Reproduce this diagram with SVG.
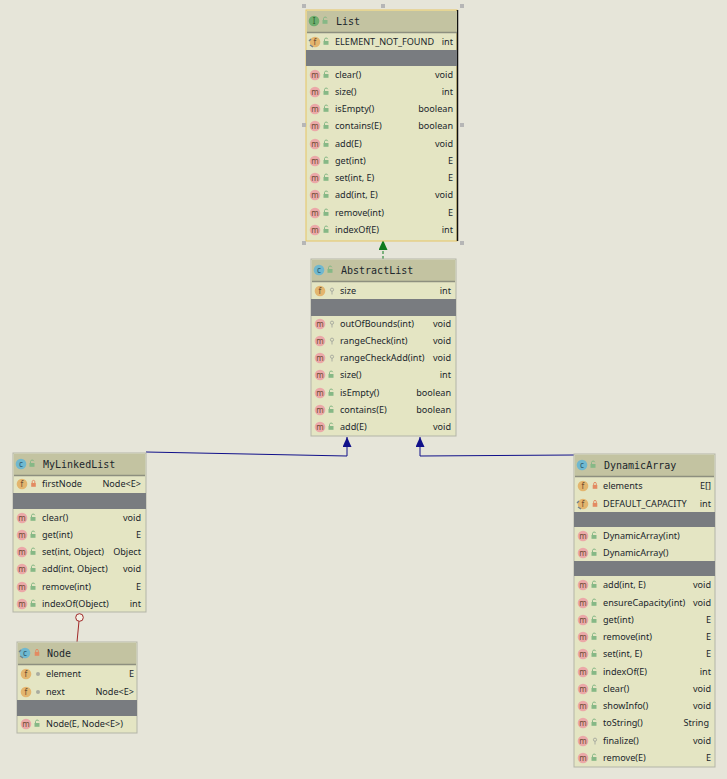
<svg xmlns="http://www.w3.org/2000/svg" width="727" height="779" viewBox="0 0 727 779">
<style>
text{font-family:"Noto Sans","Open Sans","Liberation Sans",sans-serif;font-size:9.1px;fill:#20262c}
.t{font-family:"DejaVu Sans Mono","Liberation Mono",monospace;font-size:10px}
.r{text-anchor:end}
.l{font-size:8px;text-anchor:middle;fill:#6b4a30}
.b{fill:#e4e5c3;stroke:#b3b5a8;stroke-width:1}
.h{fill:#c3c3a1}
.s{stroke:#8d8f7f;stroke-width:1.5}
.g{fill:#797c80}
.im{fill:#eba8a8}.if{fill:#e3b56e}.ic{fill:#70b8cf}.ii{fill:#6fae6f}
.h2{fill:#b6b6b6}
</style>
<defs>
<g id="o"><rect x="-2.500" y="-1" width="5" height="3.800" fill="#86b886"/><path d="M-1.500-1V-2.500A1.700 1.700 0 0 1 1.800-2.800" fill="none" stroke="#86b886"/></g>
<g id="p"><rect x="-2.300" y="-1" width="4.600" height="3.800" fill="#e38a62"/><path d="M-1.300-1V-2.300A1.300 1.300 0 0 1 1.300-2.300V-1" fill="none" stroke="#e38a62"/></g>
<g id="k"><circle cy="-1.300" r="1.600" fill="none" stroke="#a9aca0"/><path d="M0 0V3.500" stroke="#a9aca0"/></g>
<circle id="d" r="2" fill="#a9aca0"/>
<circle id="cm" r="5.300" class="im"/>
<circle id="cf" r="5.300" class="if"/>
<circle id="cc" r="5.300" class="ic"/>
<path id="st" d="M-5 3L-2 5M-4-3L-6-1" stroke="#70808c" stroke-width="1.400" fill="none"/>
<marker id="ag" markerWidth="11" markerHeight="10" refX="10" refY="4.500" orient="auto" markerUnits="userSpaceOnUse"><path d="M0 0L10 4.500L0 9Z" fill="#0f7a1e"/></marker>
<marker id="ab" markerWidth="11" markerHeight="10" refX="10" refY="4.500" orient="auto" markerUnits="userSpaceOnUse"><path d="M0 0L10 4.500L0 9Z" fill="#10108a"/></marker>
</defs>
<rect width="727" height="779" fill="#e6e5d9"/>

<g id="connectors" fill="none">
<path d="M383 259V240" stroke="#0f7a1e" stroke-dasharray="3 2" marker-end="url(#ag)"/>
<path d="M146 452L347 456V437" stroke="#10108a" marker-end="url(#ab)"/>
<path d="M574 455L420 456V437" stroke="#10108a" marker-end="url(#ab)"/>
<path d="M77 642L79 621" stroke="#a02828"/>
<circle cx="79.500" cy="617.500" r="3.800" fill="#f4f1e6" stroke="#a02828"/>
</g>

<g id="List">
<rect class="b" x="306" y="10" width="151" height="231" style="stroke:#e6c565"/>
<path d="M457.500 10V241" stroke="#111" stroke-width="1.500"/>
<rect class="h" x="307" y="11" width="150" height="21"/><path class="s" d="M307 32.500H457"/>
<rect class="g" x="306" y="50" width="151" height="16"/>
<circle cx="314" cy="21" r="5.300" class="ii"/><text class="l" x="314" y="23.500" style="fill:#2d5c2d">I</text><use href="#o" x="325" y="21"/><text class="t" x="336" y="24.500">List</text>
<use href="#cf" x="315" y="42"/><use href="#st" x="315" y="42"/><text class="l" x="315" y="44.500">f</text><use href="#o" x="326" y="42"/><text x="335" y="45">ELEMENT_NOT_FOUND</text><text class="r" x="453" y="45">int</text>
<g id="List-m">
<use href="#cm" x="315" y="75"/><text class="l" x="315" y="77.500">m</text><use href="#o" x="326" y="75"/><text x="335" y="78">clear()</text><text class="r" x="453" y="78">void</text>
<use href="#cm" x="315" y="92"/><text class="l" x="315" y="94.500">m</text><use href="#o" x="326" y="92"/><text x="335" y="95">size()</text><text class="r" x="453" y="95">int</text>
<use href="#cm" x="315" y="109"/><text class="l" x="315" y="111.500">m</text><use href="#o" x="326" y="109"/><text x="335" y="112">isEmpty()</text><text class="r" x="453" y="112">boolean</text>
<use href="#cm" x="315" y="126"/><text class="l" x="315" y="128.500">m</text><use href="#o" x="326" y="126"/><text x="335" y="129">contains(E)</text><text class="r" x="453" y="129">boolean</text>
<use href="#cm" x="315" y="144"/><text class="l" x="315" y="146.500">m</text><use href="#o" x="326" y="144"/><text x="335" y="147">add(E)</text><text class="r" x="453" y="147">void</text>
<use href="#cm" x="315" y="161"/><text class="l" x="315" y="163.500">m</text><use href="#o" x="326" y="161"/><text x="335" y="164">get(int)</text><text class="r" x="453" y="164">E</text>
<use href="#cm" x="315" y="178"/><text class="l" x="315" y="180.500">m</text><use href="#o" x="326" y="178"/><text x="335" y="181">set(int, E)</text><text class="r" x="453" y="181">E</text>
<use href="#cm" x="315" y="195"/><text class="l" x="315" y="197.500">m</text><use href="#o" x="326" y="195"/><text x="335" y="198">add(int, E)</text><text class="r" x="453" y="198">void</text>
<use href="#cm" x="315" y="213"/><text class="l" x="315" y="215.500">m</text><use href="#o" x="326" y="213"/><text x="335" y="216">remove(int)</text><text class="r" x="453" y="216">E</text>
<use href="#cm" x="315" y="230"/><text class="l" x="315" y="232.500">m</text><use href="#o" x="326" y="230"/><text x="335" y="233">indexOf(E)</text><text class="r" x="453" y="233">int</text>
</g>
<g class="h2"><rect x="302" y="4" width="4" height="4"/><rect x="381" y="4" width="4" height="4"/><rect x="460" y="4" width="4" height="4"/><rect x="302" y="123" width="4" height="4"/><rect x="460" y="123" width="4" height="4"/><rect x="302" y="241" width="4" height="4"/><rect x="460" y="241" width="4" height="4"/></g>
</g>

<g id="AbstractList">
<rect class="b" x="311" y="259" width="145" height="177"/>
<rect class="h" x="312" y="260" width="143" height="21"/><path class="s" d="M312 281.500H455"/>
<rect class="g" x="311" y="299" width="145" height="17"/>
<use href="#cc" x="319" y="270"/><text class="l" x="319" y="272.500" style="fill:#2c5a70">c</text><use href="#o" x="330" y="270"/><text class="t" x="341" y="274">AbstractList</text>
<use href="#cf" x="320" y="291"/><text class="l" x="320" y="293.500">f</text><use href="#k" x="332" y="291"/><text x="340" y="294">size</text><text class="r" x="451" y="294">int</text>
<use href="#cm" x="320" y="324"/><text class="l" x="320" y="326.500">m</text><use href="#k" x="332" y="324"/><text x="340" y="327">outOfBounds(int)</text><text class="r" x="451" y="327">void</text>
<use href="#cm" x="320" y="341"/><text class="l" x="320" y="343.500">m</text><use href="#k" x="332" y="341"/><text x="340" y="344">rangeCheck(int)</text><text class="r" x="451" y="344">void</text>
<use href="#cm" x="320" y="358"/><text class="l" x="320" y="360.500">m</text><use href="#k" x="332" y="358"/><text x="340" y="361">rangeCheckAdd(int)</text><text class="r" x="451" y="361">void</text>
<use href="#cm" x="320" y="375"/><text class="l" x="320" y="377.500">m</text><use href="#o" x="331" y="375"/><text x="340" y="378">size()</text><text class="r" x="451" y="378">int</text>
<use href="#cm" x="320" y="393"/><text class="l" x="320" y="395.500">m</text><use href="#o" x="331" y="393"/><text x="340" y="396">isEmpty()</text><text class="r" x="451" y="396">boolean</text>
<use href="#cm" x="320" y="410"/><text class="l" x="320" y="412.500">m</text><use href="#o" x="331" y="410"/><text x="340" y="413">contains(E)</text><text class="r" x="451" y="413">boolean</text>
<use href="#cm" x="320" y="427"/><text class="l" x="320" y="429.500">m</text><use href="#o" x="331" y="427"/><text x="340" y="430">add(E)</text><text class="r" x="451" y="430">void</text>
</g>

<g id="MyLinkedList">
<rect class="b" x="13" y="453" width="133" height="159"/>
<rect class="h" x="14" y="454" width="131" height="21"/><path class="s" d="M14 475.500H145"/>
<rect class="g" x="13" y="493" width="133" height="16"/>
<use href="#cc" x="21" y="464"/><text class="l" x="21" y="466.500" style="fill:#2c5a70">c</text><use href="#o" x="32" y="464"/><text class="t" x="43" y="468">MyLinkedList</text>
<use href="#cf" x="22" y="484"/><text class="l" x="22" y="486.500">f</text><use href="#p" x="33.500" y="484"/><text x="42" y="487">firstNode</text><text class="r" x="141" y="487">Node&lt;E&gt;</text>
<use href="#cm" x="22" y="518"/><text class="l" x="22" y="520.500">m</text><use href="#o" x="33" y="518"/><text x="42" y="521">clear()</text><text class="r" x="141" y="521">void</text>
<use href="#cm" x="22" y="535"/><text class="l" x="22" y="537.500">m</text><use href="#o" x="33" y="535"/><text x="42" y="538">get(int)</text><text class="r" x="141" y="538">E</text>
<use href="#cm" x="22" y="552"/><text class="l" x="22" y="554.500">m</text><use href="#o" x="33" y="552"/><text x="42" y="555">set(int, Object)</text><text class="r" x="141" y="555">Object</text>
<use href="#cm" x="22" y="569"/><text class="l" x="22" y="571.500">m</text><use href="#o" x="33" y="569"/><text x="42" y="572">add(int, Object)</text><text class="r" x="141" y="572">void</text>
<use href="#cm" x="22" y="587"/><text class="l" x="22" y="589.500">m</text><use href="#o" x="33" y="587"/><text x="42" y="590">remove(int)</text><text class="r" x="141" y="590">E</text>
<use href="#cm" x="22" y="604"/><text class="l" x="22" y="606.500">m</text><use href="#o" x="33" y="604"/><text x="42" y="607">indexOf(Object)</text><text class="r" x="141" y="607">int</text>
</g>

<g id="Node">
<rect class="b" x="17" y="642" width="120" height="91"/>
<rect class="h" x="18" y="643" width="118" height="21"/><path class="s" d="M18 664.500H136"/>
<rect class="g" x="17" y="700" width="120" height="16"/>
<use href="#cc" x="25" y="653"/><use href="#st" x="25" y="653"/><text class="l" x="25" y="655.500" style="fill:#2c5a70">c</text><use href="#p" x="37" y="653"/><text class="t" x="47" y="657">Node</text>
<use href="#cf" x="26" y="674"/><text class="l" x="26" y="676.500">f</text><use href="#d" x="38" y="674"/><text x="46" y="677">element</text><text class="r" x="134" y="677">E</text>
<use href="#cf" x="26" y="692"/><text class="l" x="26" y="694.500">f</text><use href="#d" x="38" y="692"/><text x="46" y="695">next</text><text class="r" x="134" y="695">Node&lt;E&gt;</text>
<use href="#cm" x="26" y="724"/><text class="l" x="26" y="726.500">m</text><use href="#o" x="37" y="724"/><text x="46" y="727">Node(E, Node&lt;E&gt;)</text>
</g>

<g id="DynamicArray">
<rect class="b" x="574" y="454" width="141" height="313"/>
<rect class="h" x="575" y="455" width="139" height="21"/><path class="s" d="M575 476.500H714"/>
<rect class="g" x="574" y="512" width="141" height="15"/>
<rect class="g" x="574" y="561" width="141" height="15"/>
<use href="#cc" x="582" y="465"/><text class="l" x="582" y="467.500" style="fill:#2c5a70">c</text><use href="#o" x="593" y="465"/><text class="t" x="604" y="469">DynamicArray</text>
<use href="#cf" x="583" y="486"/><text class="l" x="583" y="488.500">f</text><use href="#p" x="595" y="486"/><text x="603" y="489">elements</text><text class="r" x="711" y="489">E[]</text>
<use href="#cf" x="583" y="504"/><use href="#st" x="583" y="504"/><text class="l" x="583" y="506.500">f</text><use href="#p" x="595" y="504"/><text x="603" y="507">DEFAULT_CAPACITY</text><text class="r" x="711" y="507">int</text>
<use href="#cm" x="583" y="536"/><text class="l" x="583" y="538.500">m</text><use href="#o" x="594" y="536"/><text x="603" y="539">DynamicArray(int)</text>
<use href="#cm" x="583" y="553"/><text class="l" x="583" y="555.500">m</text><use href="#o" x="594" y="553"/><text x="603" y="556">DynamicArray()</text>
<use href="#cm" x="583" y="585"/><text class="l" x="583" y="587.500">m</text><use href="#o" x="594" y="585"/><text x="603" y="588">add(int, E)</text><text class="r" x="711" y="588">void</text>
<use href="#cm" x="583" y="603"/><text class="l" x="583" y="605.500">m</text><use href="#o" x="594" y="603"/><text x="603" y="606">ensureCapacity(int)</text><text class="r" x="711" y="606">void</text>
<use href="#cm" x="583" y="620"/><text class="l" x="583" y="622.500">m</text><use href="#o" x="594" y="620"/><text x="603" y="623">get(int)</text><text class="r" x="711" y="623">E</text>
<use href="#cm" x="583" y="637"/><text class="l" x="583" y="639.500">m</text><use href="#o" x="594" y="637"/><text x="603" y="640">remove(int)</text><text class="r" x="711" y="640">E</text>
<use href="#cm" x="583" y="654"/><text class="l" x="583" y="656.500">m</text><use href="#o" x="594" y="654"/><text x="603" y="657">set(int, E)</text><text class="r" x="711" y="657">E</text>
<use href="#cm" x="583" y="672"/><text class="l" x="583" y="674.500">m</text><use href="#o" x="594" y="672"/><text x="603" y="675">indexOf(E)</text><text class="r" x="711" y="675">int</text>
<use href="#cm" x="583" y="689"/><text class="l" x="583" y="691.500">m</text><use href="#o" x="594" y="689"/><text x="603" y="692">clear()</text><text class="r" x="711" y="692">void</text>
<use href="#cm" x="583" y="706"/><text class="l" x="583" y="708.500">m</text><use href="#o" x="594" y="706"/><text x="603" y="709">showInfo()</text><text class="r" x="711" y="709">void</text>
<use href="#cm" x="583" y="723"/><text class="l" x="583" y="725.500">m</text><use href="#o" x="594" y="723"/><text x="603" y="726">toString()</text><text class="r" x="709" y="726">String</text>
<use href="#cm" x="583" y="741"/><text class="l" x="583" y="743.500">m</text><use href="#k" x="595" y="741"/><text x="603" y="744">finalize()</text><text class="r" x="711" y="744">void</text>
<use href="#cm" x="583" y="758"/><text class="l" x="583" y="760.500">m</text><use href="#o" x="594" y="758"/><text x="603" y="761">remove(E)</text><text class="r" x="711" y="761">E</text>
</g>
</svg>
